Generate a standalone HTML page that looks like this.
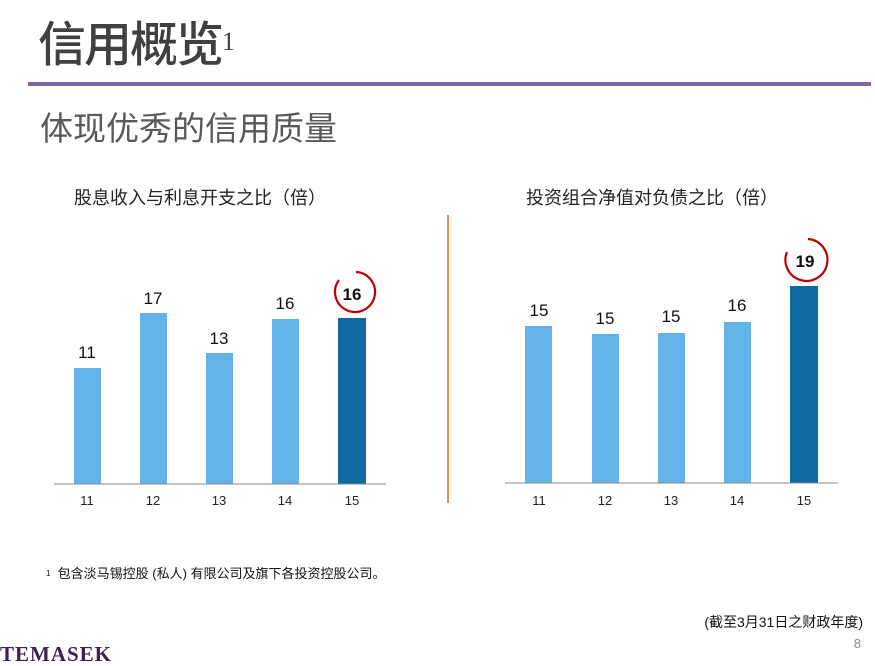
<!DOCTYPE html>
<html><head><meta charset="utf-8"><style>
body{margin:0;width:875px;height:665px;background:#fff;overflow:hidden;position:relative;font-family:"Liberation Sans","Noto Sans CJK SC",sans-serif}
.a{position:absolute;white-space:nowrap}
</style></head><body>
<div class="a" style="left:38px;top:10px;font-size:48px;font-weight:500;color:#404040;font-family:'Noto Sans CJK SC',sans-serif;line-height:60px;letter-spacing:-2px">信用概览<span style="font-size:26px;font-weight:normal;vertical-align:top;position:relative;top:2px;font-family:'Liberation Serif',serif">1</span></div>
<div class="a" style="left:28px;top:82px;width:843px;height:4px;background:#8064a2"></div>
<div class="a" style="left:40px;top:108px;font-size:33px;color:#595959;line-height:42px">体现优秀的信用质量</div>
<div class="a" style="left:74px;top:186px;font-size:18px;color:#222;line-height:24px">股息收入与利息开支之比（倍）</div>
<div class="a" style="left:526px;top:186px;font-size:18px;color:#222;line-height:24px">投资组合净值对负债之比（倍）</div>
<svg class="a" style="left:0;top:0" width="875" height="665" font-family="Liberation Sans,sans-serif">
<line x1="448" y1="215" x2="448" y2="503" stroke="#e36c0a" stroke-width="1.5"/>
<g fill="#63b3e9">
<rect x="74" y="368" width="27" height="116"/><rect x="140" y="313" width="27" height="171"/><rect x="206" y="353" width="27" height="131"/><rect x="272" y="319" width="27" height="165"/>
<rect x="525" y="326" width="27" height="157"/><rect x="592" y="334" width="27" height="149"/><rect x="658" y="333" width="27" height="150"/><rect x="724" y="322" width="27" height="161"/>
</g>
<rect x="338" y="318" width="28" height="166" fill="#0e6aa0"/>
<rect x="790" y="286" width="28" height="197" fill="#0e6aa0"/>
<line x1="54" y1="484" x2="386" y2="484" stroke="#888" stroke-width="1"/>
<line x1="505" y1="483" x2="838" y2="483" stroke="#888" stroke-width="1"/>
<g font-size="17" fill="#111" text-anchor="middle">
<text x="87" y="358">11</text><text x="153" y="304">17</text><text x="219" y="344">13</text><text x="285" y="309">16</text>
<text x="539" y="316">15</text><text x="605" y="324">15</text><text x="671" y="322">15</text><text x="737" y="311">16</text>
</g>
<g font-size="17" font-weight="bold" fill="#111" text-anchor="middle">
<text x="352" y="300">16</text><text x="805" y="267">19</text>
</g>
<g fill="none" stroke="#c00000" stroke-width="2.2">
<path d="M339 280 A20 20 0 1 0 356 272"/>
<path d="M787 252 A21 21 0 1 0 808 239"/>
</g>
<g font-size="13" fill="#222" text-anchor="middle">
<text x="87" y="505">11</text><text x="153" y="505">12</text><text x="219" y="505">13</text><text x="285" y="505">14</text><text x="352" y="505">15</text>
<text x="539" y="505">11</text><text x="605" y="505">12</text><text x="671" y="505">13</text><text x="737" y="505">14</text><text x="804" y="505">15</text>
</g>
</svg>
<div class="a" style="left:46px;top:565px;font-size:13px;color:#111;line-height:18px"><span style="font-size:8px;vertical-align:top">1</span>&nbsp; 包含淡马锡控股 (私人) 有限公司及旗下各投资控股公司。</div>
<div class="a" style="right:12px;top:613px;font-size:14px;color:#111;line-height:18px">(截至3月31日之财政年度)</div>
<div class="a" style="right:14px;top:636px;font-size:13px;color:#888">8</div>
<div class="a" style="left:0;top:643px;font-size:21px;font-weight:bold;color:#3a2350;font-family:'Liberation Serif',serif;letter-spacing:1px;line-height:22px">TEMASEK</div>
</body></html>
